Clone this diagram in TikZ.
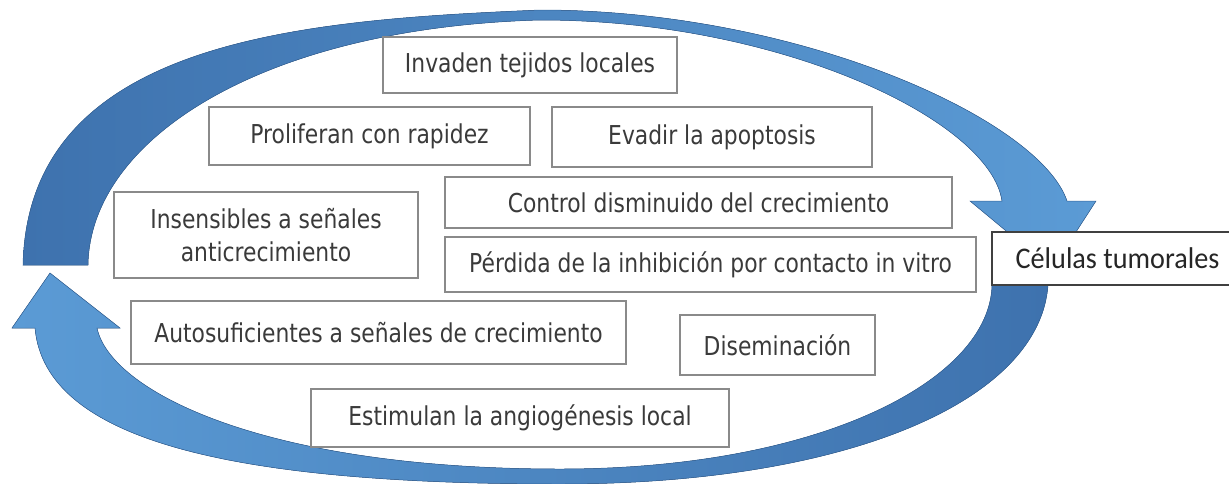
\documentclass[tikz,border=0pt]{standalone}
\usepackage{fontspec}
\setmainfont{DejaVu Sans}[FakeStretch=0.84]
\newfontfamily\cellfont{Carlito}[FakeStretch=0.94]

\definecolor{arrowdark}{HTML}{3E72AE}
\definecolor{arrowlight}{HTML}{5B9BD5}
\definecolor{arrowline}{HTML}{35649A}
\definecolor{boxgray}{HTML}{8A8A8A}
\definecolor{textgray}{HTML}{3A3A3A}

\begin{document}
\begin{tikzpicture}[x=1pt,y=-1pt,
		trait node/.style={rectangle,draw=boxgray,fill=white,line width=1.5pt,
			inner sep=0pt,text=textgray,align=center,
			font=\fontsize{26}{33}\selectfont},
		cell node/.style={rectangle,draw=black!75,fill=white,line width=1.8pt,
			inner sep=0pt,text=black!85,font=\cellfont\fontsize{30}{36}\selectfont}]
	\useasboundingbox (0,0) rectangle (1229,483);
	%
	% Upper curved arrow, from the left over the top down to the cells.
	\filldraw[draw=arrowline,line width=0.5pt,left color=arrowdark,right color=arrowlight]
		(23,265) .. controls (28,40) and (300,20) .. (540,10)
		.. controls (800,10) and (1040,120) .. (1067,201)
		-- (1096,201) -- (1052,269) -- (970,201) -- (1002,201)
		.. controls (990,120) and (780,20) .. (540,20)
		.. controls (260,28) and (90,140) .. (88,265) -- cycle;
	%
	% Lower curved arrow, from the cells round the bottom back up on the left.
	\filldraw[draw=arrowline,line width=0.5pt,left color=arrowlight,right color=arrowdark]
		(1048,250) -- (1048,285) .. controls (1040,400) and (850,484) .. (560,484)
		.. controls (230,484) and (45,440) .. (35,328)
		-- (12,328) -- (50,273) -- (120,328) -- (97,328)
		.. controls (110,390) and (260,469) .. (560,469)
		.. controls (820,469) and (990,380) .. (992,285) -- (992,250) -- cycle;
	%
	% Traits of the tumour cells.
	\node[trait node,minimum width=294,minimum height=56] (0) at (530,65) {Invaden tejidos locales};
	\node[trait node,minimum width=321,minimum height=58] (1) at (369.5,136) {Proliferan con rapidez};
	\node[trait node,minimum width=320,minimum height=60] (2) at (712,137) {Evadir la apoptosis};
	\node[trait node,minimum width=304,minimum height=86] (3) at (266,235) {Insensibles a señales\\anticrecimiento};
	\node[trait node,minimum width=507,minimum height=51] (4) at (698.5,202.5) {Control disminuido del crecimiento};
	\node[trait node,minimum width=531,minimum height=55] (5) at (710.5,264.5) {Pérdida de la inhibición por contacto in vitro};
	\node[trait node,minimum width=495,minimum height=63] (6) at (378.5,332.5) {Autosuficientes a señales de crecimiento};
	\node[trait node,minimum width=195,minimum height=60] (7) at (777.5,345) {Diseminación};
	\node[trait node,minimum width=418,minimum height=58] (8) at (520,418) {Estimulan la angiogénesis local};
	%
	% The cells themselves, where both arrows meet.
	\node[cell node,minimum width=251,minimum height=53] (9) at (1117.5,258.5) {Células tumorales};
\end{tikzpicture}
\end{document}
